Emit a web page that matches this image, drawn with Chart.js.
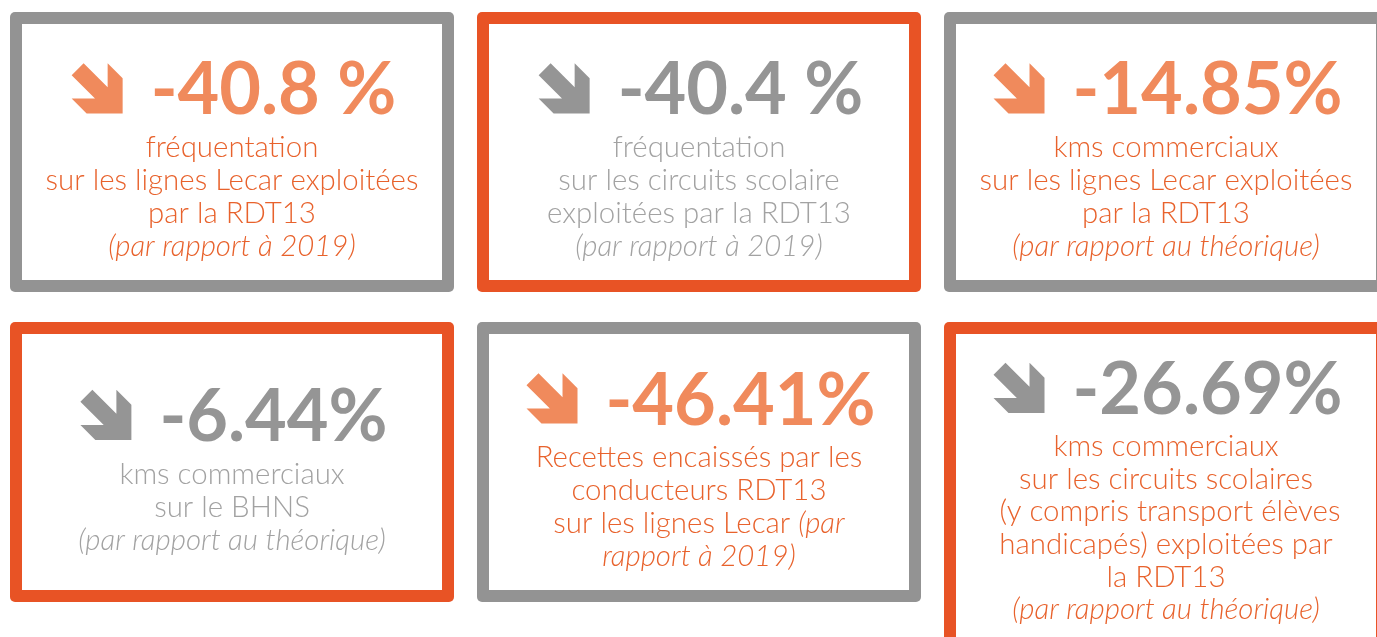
<!DOCTYPE html>
<html lang="fr">
<head>
<meta charset="utf-8">
<title>Indicateurs RDT13</title>
<script src="https://cdn.jsdelivr.net/npm/chart.js@4/dist/chart.umd.min.js"></script>
<style>
  html, body { margin: 0; padding: 0; background: #ffffff; overflow: hidden; }
  #kpiChart { display: block; }
</style>
</head>
<body>
<canvas id="kpiChart" width="1377" height="637"></canvas>
<script>
// Grid slot of each card (column, row)
const columns = [0, 1, 2, 0, 1, 2];
const rows = [0, 0, 0, 1, 1, 1];

// Variation values (%)
const values = [-40.8, -40.4, -14.85, -6.44, -46.41, -26.69];
const spacedPct = [true, true, false, false, false, false];

// Card colour themes
const numberTone = ['orange', 'gray', 'orange', 'gray', 'orange', 'gray'];
const textTone = ['orange', 'gray', 'orange', 'gray', 'orange', 'orange'];
const frameTone = ['gray', 'orange', 'gray', 'orange', 'gray', 'orange'];

// Descriptions, italic parts wrapped in underscores
const descriptions = [
  ['fréquentation', 'sur les lignes Lecar exploitées', 'par la RDT13', '_(par rapport à 2019)_'],
  ['fréquentation', 'sur les circuits scolaire', 'exploitées par la RDT13', '_(par rapport à 2019)_'],
  ['kms commerciaux', 'sur les lignes Lecar exploitées', 'par la RDT13', '_(par rapport au théorique)_'],
  ['kms commerciaux', 'sur le BHNS', '_(par rapport au théorique)_'],
  ['Recettes encaissés par les', 'conducteurs RDT13', 'sur les lignes Lecar _(par_', '_rapport à 2019)_'],
  ['kms commerciaux', 'sur les circuits scolaires', ' (y compris transport élèves', 'handicapés) exploitées par', 'la RDT13', '_(par rapport au théorique)_']
];

const palette = {
  number: { orange: '#F08A5C', gray: '#959595' },
  text: { orange: '#E8622C', gray: '#A2A2A2' },
  frame: { orange: '#E85325', gray: '#939393' }
};

const FONT = "Lato, 'Open Sans', sans-serif";

// Down-right arrow icon, unit box
const arrowShape = [
  [0.235, 0.013], [0.706, 0.484], [0.706, 0.013], [1, 0.307], [1, 1],
  [0.294, 1], [0, 0.706], [0.458, 0.706], [0, 0.248]
];

function formatValue(v, i) {
  return String(v) + (spacedPct[i] ? ' %' : '%');
}

function drawArrow(ctx, x, y, size, color) {
  ctx.beginPath();
  arrowShape.forEach(([px, py], k) => {
    const X = x + px * size, Y = y + py * size;
    if (k === 0) ctx.moveTo(X, Y); else ctx.lineTo(X, Y);
  });
  ctx.closePath();
  ctx.fillStyle = color;
  ctx.fill();
}

function lineSegments(line) {
  return line.split('_').map((t, k) => ({ text: t, italic: k % 2 === 1 })).filter(s => s.text.length);
}

let bodySize = null;

function bodyFont(italic) {
  return (italic ? 'italic ' : '') + '300 ' + bodySize + 'px ' + FONT;
}

function drawCard(ctx, cx, cy, i) {
  const W = 444, baseH = 280, border = 12;
  const lines = descriptions[i];
  const lineGap = lines.length > 4 ? 32.6 : 33;
  const contentH = 52 + lineGap * lines.length + 10;

  const top = cy - baseH / 2;
  let H = baseH, capTop = cy + 7.5 - contentH / 2;
  if (contentH + 86 > baseH) {
    capTop = top + 40;
    H = contentH + 80;
  }
  const left = cx - W / 2;

  // Frame
  ctx.fillStyle = palette.frame[frameTone[i]];
  ctx.beginPath();
  if (ctx.roundRect) ctx.roundRect(left, top, W, H, 5); else ctx.rect(left, top, W, H);
  ctx.fill();
  ctx.fillStyle = '#ffffff';
  ctx.fillRect(left + border, top + border, W - 2 * border, H - 2 * border);

  // Headline: arrow + value
  const numColor = palette.number[numberTone[i]];
  const label = formatValue(values[i], i);
  ctx.font = 'bold 72px ' + FONT;
  ctx.textBaseline = 'alphabetic';
  ctx.textAlign = 'left';
  const tw = ctx.measureText(label).width;
  const arrowSize = 51, gap = 28;
  const groupW = arrowSize + gap + tw;
  const gx = cx - groupW / 2 + 2;
  drawArrow(ctx, gx, capTop, arrowSize, numColor);
  ctx.fillStyle = numColor;
  ctx.fillText(label, gx + arrowSize + gap, capTop + 52);

  // Description lines
  ctx.fillStyle = palette.text[textTone[i]];
  ctx.textBaseline = 'middle';
  lines.forEach((line, k) => {
    const y = capTop + 52 + lineGap * (k + 1);
    const segs = lineSegments(line);
    let total = 0;
    segs.forEach(s => {
      ctx.font = bodyFont(s.italic);
      s.w = ctx.measureText(s.text).width;
      total += s.w;
    });
    let x = cx - total / 2;
    segs.forEach(s => {
      ctx.font = bodyFont(s.italic);
      ctx.fillText(s.text, x, y);
      x += s.w;
    });
  });
}

const kpiCards = {
  id: 'kpiCards',
  afterDatasetsDraw(chart) {
    const ctx = chart.ctx;
    if (bodySize === null) {
      // size body text so the widest reference line spans ~373px
      ctx.font = '300 100px ' + FONT;
      bodySize = 100 * 373 / ctx.measureText('sur les lignes Lecar exploitées').width;
    }
    ctx.save();
    chart.getDatasetMeta(0).data.forEach((pt, i) => drawCard(ctx, pt.x, pt.y, i));
    ctx.restore();
  }
};

function setupKpiChart() {
  const el = document.getElementById('kpiChart');
  new Chart(el, {
    type: 'scatter',
    data: {
      datasets: [{
        label: 'Variation',
        data: values.map((v, i) => ({ x: columns[i], y: rows[i], v: v })),
        pointRadius: 0,
        pointHoverRadius: 0
      }]
    },
    options: {
      responsive: false,
      animation: false,
      devicePixelRatio: 1,
      events: [],
      layout: { padding: 0 },
      plugins: { legend: { display: false }, tooltip: { enabled: false } },
      scales: {
        x: { type: 'linear', display: false, min: -0.4968, max: 2.4518 },
        y: { type: 'linear', display: false, reverse: true, min: -0.4903, max: 1.5645 }
      }
    },
    plugins: [kpiCards]
  });
}

document.addEventListener('DOMContentLoaded', setupKpiChart);
</script>
</body>
</html>
